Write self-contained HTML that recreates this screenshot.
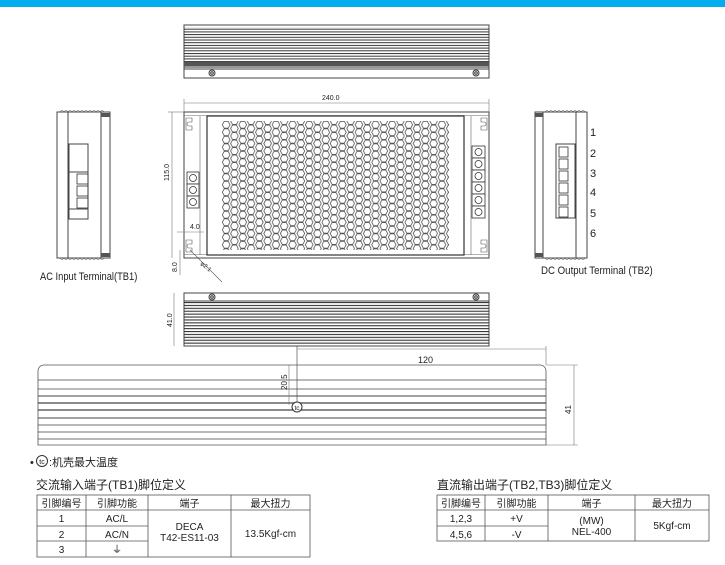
<!DOCTYPE html>
<html><head><meta charset="utf-8"><style>
html,body{margin:0;padding:0;background:#fff;}
svg{display:block;}
text{font-family:"Liberation Sans","Noto Sans CJK SC",sans-serif;fill:#222;}
</style></head><body>
<svg width="725" height="565" viewBox="0 0 725 565" xmlns="http://www.w3.org/2000/svg">
<defs>
<pattern id="hex" x="222" y="121" width="16.6" height="15" patternUnits="userSpaceOnUse">
<g fill="none" stroke="#555" stroke-width="0.8">
<polygon points="0.3,3.75 2.2,0.3 6.1,0.3 8,3.75 6.1,7.2 2.2,7.2"/>
<polygon points="0.3,11.25 2.2,7.8 6.1,7.8 8,11.25 6.1,14.7 2.2,14.7"/>
<polygon points="8.6,7.5 10.5,4.05 14.4,4.05 16.3,7.5 14.4,10.95 10.5,10.95"/>
<polygon points="8.6,0 10.5,-3.45 14.4,-3.45 16.3,0 14.4,3.45 10.5,3.45"/>
<polygon points="8.6,15 10.5,11.55 14.4,11.55 16.3,15 14.4,18.45 10.5,18.45"/>
</g></pattern>
<pattern id="fins" x="0" y="26" width="10" height="2.7" patternUnits="userSpaceOnUse">
<rect x="0" y="0" width="10" height="1" fill="#333"/></pattern>
<pattern id="fins2" x="0" y="302" width="10" height="2.9" patternUnits="userSpaceOnUse">
<rect x="0" y="0" width="10" height="1.1" fill="#333"/></pattern>
</defs>
<rect x="0" y="0" width="725" height="7" fill="#00aeef"/>

<!-- top heatsink -->
<rect x="184" y="25" width="305" height="53" fill="#fff" stroke="#444"/>
<rect x="184" y="27" width="305" height="41" fill="url(#fins)"/>
<rect x="184" y="62" width="305" height="4" fill="#555"/>
<line x1="184" y1="69" x2="489" y2="69" stroke="#444"/>
<circle cx="212" cy="73" r="3" fill="none" stroke="#333"/><circle cx="212" cy="73" r="1.3" fill="none" stroke="#333"/>
<circle cx="476" cy="73" r="3" fill="none" stroke="#333"/><circle cx="476" cy="73" r="1.3" fill="none" stroke="#333"/>

<!-- 240 dim -->
<line x1="184" y1="103" x2="489" y2="103" stroke="#777" stroke-width="0.6"/>
<line x1="184" y1="99" x2="184" y2="112" stroke="#777" stroke-width="0.6"/>
<line x1="489" y1="99" x2="489" y2="112" stroke="#777" stroke-width="0.6"/>
<text x="322" y="100" font-size="7" font-family="Liberation Mono">240.0</text>

<!-- main view -->
<rect x="184" y="112" width="305" height="146" fill="#fff" stroke="#444"/>
<line x1="184" y1="115.5" x2="489" y2="115.5" stroke="#666" stroke-width="0.6"/>
<line x1="184" y1="254.5" x2="489" y2="254.5" stroke="#666" stroke-width="0.6"/>
<rect x="207" y="116" width="257" height="139" fill="#fff" stroke="#333" stroke-width="1.2"/>
<rect x="222" y="121" width="227" height="129" fill="url(#hex)"/>
<line x1="200" y1="116" x2="200" y2="255" stroke="#666" stroke-width="0.6"/>
<line x1="471" y1="116" x2="471" y2="255" stroke="#666" stroke-width="0.6"/>
<path d="M186,118 h6 v4 h-3 a2,2 0 0 0 0,4 h3 v4 h-6z" fill="none" stroke="#555" stroke-width="0.6"/>
<path d="M186,240 h6 v4 h-3 a2,2 0 0 0 0,4 h3 v4 h-6z" fill="none" stroke="#555" stroke-width="0.6"/>
<path d="M487,118 h-6 v4 h3 a2,2 0 0 1 0,4 h-3 v4 h6z" fill="none" stroke="#555" stroke-width="0.6"/>
<path d="M487,240 h-6 v4 h3 a2,2 0 0 1 0,4 h-3 v4 h6z" fill="none" stroke="#555" stroke-width="0.6"/>
<g fill="#fff" stroke="#333" stroke-width="0.8">
<rect x="187" y="172" width="12" height="12"/><rect x="187" y="184" width="12" height="12"/><rect x="187" y="196" width="12" height="12"/>
<rect x="472" y="146" width="13" height="12"/><rect x="472" y="158" width="13" height="12"/><rect x="472" y="170" width="13" height="12"/>
<rect x="472" y="182" width="13" height="12"/><rect x="472" y="194" width="13" height="12"/><rect x="472" y="206" width="13" height="12"/>
</g>
<g fill="none" stroke="#333" stroke-width="0.8">
<circle cx="193" cy="178" r="3.5"/><circle cx="193" cy="190" r="3.5"/><circle cx="193" cy="202" r="3.5"/>
<circle cx="478.5" cy="152" r="3.5"/><circle cx="478.5" cy="164" r="3.5"/><circle cx="478.5" cy="176" r="3.5"/>
<circle cx="478.5" cy="188" r="3.5"/><circle cx="478.5" cy="200" r="3.5"/><circle cx="478.5" cy="212" r="3.5"/>
</g>
<!-- 115 dim -->
<line x1="172" y1="112" x2="172" y2="258" stroke="#777" stroke-width="0.6"/>
<line x1="168" y1="112" x2="184" y2="112" stroke="#777" stroke-width="0.6"/>
<text transform="translate(169,181) rotate(-90)" font-size="7" font-family="Liberation Mono">115.0</text>
<line x1="177" y1="232" x2="204" y2="232" stroke="#777" stroke-width="0.6"/>
<text x="190" y="229" font-size="7" font-family="Liberation Mono">4.0</text>
<line x1="180" y1="250" x2="180" y2="275" stroke="#777" stroke-width="0.6"/>
<text transform="translate(177,272) rotate(-90)" font-size="7" font-family="Liberation Mono">8.0</text>
<line x1="190" y1="250" x2="222" y2="282" stroke="#555" stroke-width="0.6"/>
<text transform="translate(200,264) rotate(40)" font-size="6" font-family="Liberation Mono">φ2.1</text>

<!-- left side view -->
<rect x="57" y="112" width="53" height="146" fill="#fff" stroke="#444"/>
<path d="M60,112 q2,-3 4,0 q2,-3 4,0 q2,-3 4,0 q2,-3 4,0 q2,-3 4,0 q2,-3 4,0 q2,-3 4,0 q2,-3 4,0 q2,-3 4,0 q2,-3 4,0 q2,-3 4,0" fill="none" stroke="#555" stroke-width="0.6"/>
<path d="M60,258 q2,3 4,0 q2,3 4,0 q2,3 4,0 q2,3 4,0 q2,3 4,0 q2,3 4,0 q2,3 4,0 q2,3 4,0 q2,3 4,0 q2,3 4,0 q2,3 4,0" fill="none" stroke="#555" stroke-width="0.6"/>
<line x1="68" y1="112" x2="68" y2="258" stroke="#444"/>
<line x1="101" y1="112" x2="101" y2="258" stroke="#444"/>
<rect x="101" y="113" width="9" height="4" fill="#555"/><rect x="101" y="253" width="9" height="4" fill="#555"/>
<rect x="69" y="144" width="19" height="75" fill="#fff" stroke="#444"/>
<line x1="69" y1="172" x2="88" y2="172" stroke="#444"/><line x1="69" y1="209" x2="88" y2="209" stroke="#444"/>
<g fill="none" stroke="#333" stroke-width="0.8"><rect x="77" y="174" width="11" height="10"/><rect x="77" y="186" width="11" height="10"/><rect x="77" y="198" width="11" height="10"/></g>
<text x="40" y="280" font-size="11" transform="translate(40,0) scale(0.85,1) translate(-40,0)">AC Input Terminal(TB1)</text>

<!-- right side view -->
<rect x="535" y="112" width="52" height="146" fill="#fff" stroke="#444"/>
<path d="M545,112 q2,-3 4,0 q2,-3 4,0 q2,-3 4,0 q2,-3 4,0 q2,-3 4,0 q2,-3 4,0 q2,-3 4,0 q2,-3 4,0 q2,-3 4,0 q2,-3 4,0" fill="none" stroke="#555" stroke-width="0.6"/>
<path d="M545,258 q2,3 4,0 q2,3 4,0 q2,3 4,0 q2,3 4,0 q2,3 4,0 q2,3 4,0 q2,3 4,0 q2,3 4,0 q2,3 4,0 q2,3 4,0" fill="none" stroke="#555" stroke-width="0.6"/>
<line x1="543" y1="112" x2="543" y2="258" stroke="#444"/>
<line x1="576" y1="112" x2="576" y2="258" stroke="#444"/>
<rect x="535" y="113" width="8" height="4" fill="#555"/><rect x="535" y="253" width="8" height="4" fill="#555"/>
<rect x="556" y="144" width="19" height="74" fill="#fff" stroke="#444"/>
<g fill="none" stroke="#333" stroke-width="0.8"><rect x="559" y="147" width="9" height="10"/><rect x="559" y="159" width="9" height="10"/><rect x="559" y="171" width="9" height="10"/><rect x="559" y="183" width="9" height="10"/><rect x="559" y="195" width="9" height="10"/><rect x="559" y="207" width="9" height="10"/></g>
<g font-size="11"><text x="590" y="136">1</text><text x="590" y="157">2</text><text x="590" y="177">3</text><text x="590" y="196">4</text><text x="590" y="217">5</text><text x="590" y="237">6</text></g>
<text x="541" y="274" font-size="11" transform="translate(541,0) scale(0.88,1) translate(-541,0)">DC Output Terminal (TB2)</text>

<!-- bottom heatsink -->
<rect x="184" y="293" width="305" height="53" fill="#fff" stroke="#444"/>
<line x1="184" y1="301" x2="489" y2="301" stroke="#444"/>
<rect x="184" y="302" width="305" height="43" fill="url(#fins2)"/>
<circle cx="212" cy="297" r="3" fill="none" stroke="#333"/><circle cx="212" cy="297" r="1.3" fill="none" stroke="#333"/>
<circle cx="476" cy="297" r="3" fill="none" stroke="#333"/><circle cx="476" cy="297" r="1.3" fill="none" stroke="#333"/>
<line x1="174" y1="293" x2="174" y2="346" stroke="#777" stroke-width="0.6"/>
<text transform="translate(172,327) rotate(-90)" font-size="7" font-family="Liberation Mono">41.0</text>

<!-- long side view -->
<path d="M38,445 V371 a6,6 0 0 1 6,-6 H540 a6,6 0 0 1 6,6 V445 Z" fill="#fff" stroke="#555" stroke-width="0.8"/>
<g stroke="#444">
<line x1="38" y1="380" x2="546" y2="380" stroke-width="0.7"/>
<line x1="38" y1="389" x2="546" y2="389" stroke-width="0.7"/>
<line x1="38" y1="396" x2="546" y2="396" stroke-width="0.9"/>
<line x1="38" y1="403" x2="546" y2="403" stroke-width="1.2"/>
<line x1="38" y1="410" x2="546" y2="410" stroke-width="1.2"/>
<line x1="38" y1="418" x2="546" y2="418" stroke-width="0.9"/>
<line x1="38" y1="425" x2="546" y2="425" stroke-width="0.7"/>
<line x1="38" y1="432" x2="546" y2="432" stroke-width="0.7"/>
<line x1="38" y1="439" x2="546" y2="439" stroke-width="0.7"/>
</g>
<line x1="297" y1="346" x2="297" y2="402" stroke="#555" stroke-width="0.7"/>
<line x1="297" y1="349" x2="546" y2="349" stroke="#777" stroke-width="0.6"/>
<line x1="546" y1="346" x2="546" y2="365" stroke="#777" stroke-width="0.6"/>
<text x="418" y="363" font-size="9">120</text>
<line x1="289" y1="365" x2="289" y2="405" stroke="#777" stroke-width="0.6"/>
<text transform="translate(287,390) rotate(-90)" font-size="8">20.5</text>
<circle cx="297" cy="407" r="5" fill="#fff" stroke="#333"/>
<text x="297" y="410" font-size="6.5" text-anchor="middle">tc</text>
<line x1="546" y1="365" x2="578" y2="365" stroke="#777" stroke-width="0.6"/>
<line x1="546" y1="445" x2="578" y2="445" stroke="#777" stroke-width="0.6"/>
<line x1="574" y1="365" x2="574" y2="445" stroke="#777" stroke-width="0.6"/>
<text transform="translate(571,414) rotate(-90)" font-size="8">41</text>

<!-- legend -->
<text x="30" y="466" font-size="11">•</text>
<circle cx="42" cy="461" r="5.5" fill="#fff" stroke="#333"/>
<text x="42" y="464" font-size="7" text-anchor="middle">tc</text>
<text x="49" y="466" font-size="11">:机壳最大温度</text>

<!-- table 1 -->
<text x="36" y="489" font-size="12">交流输入端子(TB1)脚位定义</text>
<g fill="none" stroke="#555" stroke-width="0.8">
<rect x="37" y="495" width="273" height="62"/>
<line x1="86" y1="495" x2="86" y2="557"/><line x1="148" y1="495" x2="148" y2="557"/><line x1="231" y1="495" x2="231" y2="557"/>
<line x1="37" y1="510" x2="310" y2="510"/><line x1="37" y1="526" x2="148" y2="526"/><line x1="37" y1="541" x2="148" y2="541"/>
</g>
<g font-size="10" text-anchor="middle">
<text x="61.5" y="507">引脚编号</text><text x="117" y="507">引脚功能</text><text x="189.5" y="507">端子</text><text x="270.5" y="507">最大扭力</text>
<text x="61.5" y="522">1</text><text x="117" y="522">AC/L</text>
<text x="61.5" y="538">2</text><text x="117" y="538">AC/N</text>
<text x="61.5" y="553">3</text><text x="117" y="553">⏚</text>
<text x="189.5" y="530">DECA</text><text x="189.5" y="541">T42-ES11-03</text>
<text x="270.5" y="537">13.5Kgf-cm</text>
</g>

<!-- table 2 -->
<text x="437" y="489" font-size="12">直流输出端子(TB2,TB3)脚位定义</text>
<g fill="none" stroke="#555" stroke-width="0.8">
<rect x="437" y="495" width="272" height="46"/>
<line x1="485" y1="495" x2="485" y2="541"/><line x1="548" y1="495" x2="548" y2="541"/><line x1="635" y1="495" x2="635" y2="541"/>
<line x1="437" y1="510" x2="709" y2="510"/><line x1="437" y1="526" x2="548" y2="526"/>
</g>
<g font-size="10" text-anchor="middle">
<text x="461" y="507">引脚编号</text><text x="516.5" y="507">引脚功能</text><text x="591.5" y="507">端子</text><text x="672" y="507">最大扭力</text>
<text x="461" y="522">1,2,3</text><text x="516.5" y="522">+V</text>
<text x="461" y="538">4,5,6</text><text x="516.5" y="538">-V</text>
<text x="591.5" y="524">(MW)</text><text x="591.5" y="535">NEL-400</text>
<text x="672" y="529">5Kgf-cm</text>
</g>
</svg>
</body></html>
